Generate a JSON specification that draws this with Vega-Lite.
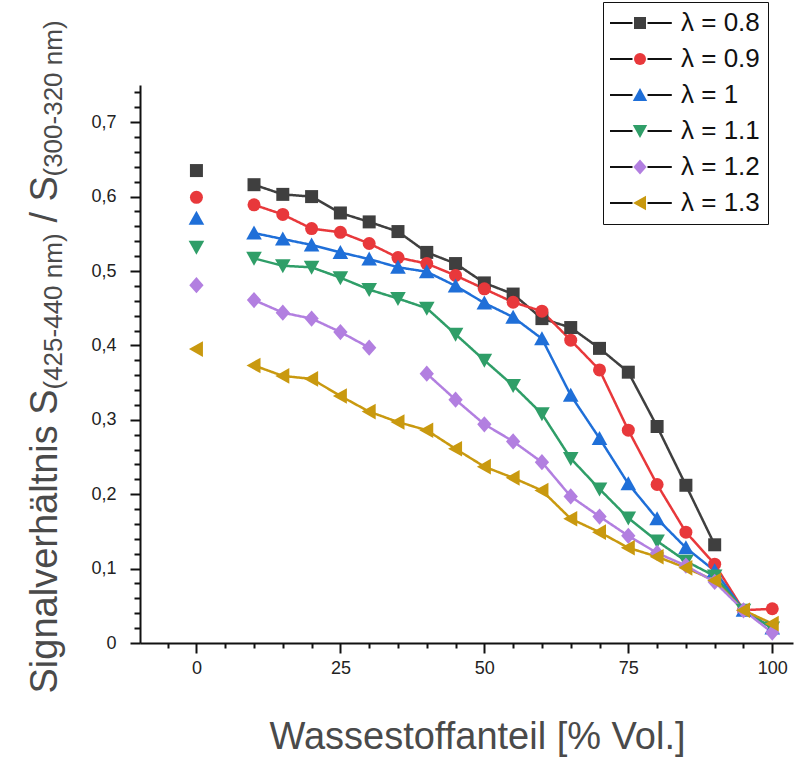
{
  "$schema": "https://vega.github.io/schema/vega-lite/v6.json",
  "width": 653,
  "height": 558,
  "autosize": {"type": "none"},
  "padding": {"left": 140, "top": 85, "right": 13, "bottom": 115},
  "background": "white",
  "config": {
    "view": {"stroke": null},
    "font": "Liberation Sans",
    "axis": {"grid": false, "domainColor": "#111", "domainWidth": 2, "tickColor": "#111", "tickWidth": 2, "labelFont": "Liberation Sans", "titleFont": "Liberation Sans", "labelColor": "#222", "titleColor": "#4a4a4a", "titleFontWeight": "normal"}
  },
  "data": {"values": [
    {"s": "λ = 0.8", "x": 0, "y": 0.635, "p": 0},
    {"s": "λ = 0.8", "x": 10, "y": 0.616, "p": 1},
    {"s": "λ = 0.8", "x": 15, "y": 0.603, "p": 1},
    {"s": "λ = 0.8", "x": 20, "y": 0.6, "p": 1},
    {"s": "λ = 0.8", "x": 25, "y": 0.578, "p": 1},
    {"s": "λ = 0.8", "x": 30, "y": 0.566, "p": 1},
    {"s": "λ = 0.8", "x": 35, "y": 0.553, "p": 1},
    {"s": "λ = 0.8", "x": 40, "y": 0.525, "p": 1},
    {"s": "λ = 0.8", "x": 45, "y": 0.51, "p": 1},
    {"s": "λ = 0.8", "x": 50, "y": 0.484, "p": 1},
    {"s": "λ = 0.8", "x": 55, "y": 0.469, "p": 1},
    {"s": "λ = 0.8", "x": 60, "y": 0.436, "p": 1},
    {"s": "λ = 0.8", "x": 65, "y": 0.424, "p": 1},
    {"s": "λ = 0.8", "x": 70, "y": 0.396, "p": 1},
    {"s": "λ = 0.8", "x": 75, "y": 0.364, "p": 1},
    {"s": "λ = 0.8", "x": 80, "y": 0.291, "p": 1},
    {"s": "λ = 0.8", "x": 85, "y": 0.212, "p": 1},
    {"s": "λ = 0.8", "x": 90, "y": 0.132, "p": 1},
    {"s": "λ = 0.9", "x": 0, "y": 0.599, "p": 0},
    {"s": "λ = 0.9", "x": 10, "y": 0.589, "p": 1},
    {"s": "λ = 0.9", "x": 15, "y": 0.576, "p": 1},
    {"s": "λ = 0.9", "x": 20, "y": 0.557, "p": 1},
    {"s": "λ = 0.9", "x": 25, "y": 0.552, "p": 1},
    {"s": "λ = 0.9", "x": 30, "y": 0.537, "p": 1},
    {"s": "λ = 0.9", "x": 35, "y": 0.518, "p": 1},
    {"s": "λ = 0.9", "x": 40, "y": 0.51, "p": 1},
    {"s": "λ = 0.9", "x": 45, "y": 0.494, "p": 1},
    {"s": "λ = 0.9", "x": 50, "y": 0.476, "p": 1},
    {"s": "λ = 0.9", "x": 55, "y": 0.458, "p": 1},
    {"s": "λ = 0.9", "x": 60, "y": 0.446, "p": 1},
    {"s": "λ = 0.9", "x": 65, "y": 0.407, "p": 1},
    {"s": "λ = 0.9", "x": 70, "y": 0.367, "p": 1},
    {"s": "λ = 0.9", "x": 75, "y": 0.286, "p": 1},
    {"s": "λ = 0.9", "x": 80, "y": 0.213, "p": 1},
    {"s": "λ = 0.9", "x": 85, "y": 0.149, "p": 1},
    {"s": "λ = 0.9", "x": 90, "y": 0.106, "p": 1},
    {"s": "λ = 0.9", "x": 95, "y": 0.044, "p": 1},
    {"s": "λ = 0.9", "x": 100, "y": 0.046, "p": 1},
    {"s": "λ = 1", "x": 0, "y": 0.571, "p": 0},
    {"s": "λ = 1", "x": 10, "y": 0.551, "p": 1},
    {"s": "λ = 1", "x": 15, "y": 0.543, "p": 1},
    {"s": "λ = 1", "x": 20, "y": 0.535, "p": 1},
    {"s": "λ = 1", "x": 25, "y": 0.525, "p": 1},
    {"s": "λ = 1", "x": 30, "y": 0.516, "p": 1},
    {"s": "λ = 1", "x": 35, "y": 0.505, "p": 1},
    {"s": "λ = 1", "x": 40, "y": 0.499, "p": 1},
    {"s": "λ = 1", "x": 45, "y": 0.48, "p": 1},
    {"s": "λ = 1", "x": 50, "y": 0.457, "p": 1},
    {"s": "λ = 1", "x": 55, "y": 0.438, "p": 1},
    {"s": "λ = 1", "x": 60, "y": 0.409, "p": 1},
    {"s": "λ = 1", "x": 65, "y": 0.333, "p": 1},
    {"s": "λ = 1", "x": 70, "y": 0.275, "p": 1},
    {"s": "λ = 1", "x": 75, "y": 0.214, "p": 1},
    {"s": "λ = 1", "x": 80, "y": 0.167, "p": 1},
    {"s": "λ = 1", "x": 85, "y": 0.128, "p": 1},
    {"s": "λ = 1", "x": 90, "y": 0.097, "p": 1},
    {"s": "λ = 1", "x": 95, "y": 0.044, "p": 1},
    {"s": "λ = 1", "x": 100, "y": 0.02, "p": 1},
    {"s": "λ = 1.1", "x": 0, "y": 0.532, "p": 0},
    {"s": "λ = 1.1", "x": 10, "y": 0.517, "p": 1},
    {"s": "λ = 1.1", "x": 15, "y": 0.507, "p": 1},
    {"s": "λ = 1.1", "x": 20, "y": 0.505, "p": 1},
    {"s": "λ = 1.1", "x": 25, "y": 0.491, "p": 1},
    {"s": "λ = 1.1", "x": 30, "y": 0.475, "p": 1},
    {"s": "λ = 1.1", "x": 35, "y": 0.463, "p": 1},
    {"s": "λ = 1.1", "x": 40, "y": 0.45, "p": 1},
    {"s": "λ = 1.1", "x": 45, "y": 0.415, "p": 1},
    {"s": "λ = 1.1", "x": 50, "y": 0.38, "p": 1},
    {"s": "λ = 1.1", "x": 55, "y": 0.346, "p": 1},
    {"s": "λ = 1.1", "x": 60, "y": 0.308, "p": 1},
    {"s": "λ = 1.1", "x": 65, "y": 0.248, "p": 1},
    {"s": "λ = 1.1", "x": 70, "y": 0.207, "p": 1},
    {"s": "λ = 1.1", "x": 75, "y": 0.168, "p": 1},
    {"s": "λ = 1.1", "x": 80, "y": 0.137, "p": 1},
    {"s": "λ = 1.1", "x": 85, "y": 0.11, "p": 1},
    {"s": "λ = 1.1", "x": 90, "y": 0.09, "p": 1},
    {"s": "λ = 1.1", "x": 95, "y": 0.044, "p": 1},
    {"s": "λ = 1.1", "x": 100, "y": 0.02, "p": 1},
    {"s": "λ = 1.2", "x": 0, "y": 0.481, "p": 0},
    {"s": "λ = 1.2", "x": 10, "y": 0.461, "p": 1},
    {"s": "λ = 1.2", "x": 15, "y": 0.444, "p": 1},
    {"s": "λ = 1.2", "x": 20, "y": 0.436, "p": 1},
    {"s": "λ = 1.2", "x": 25, "y": 0.418, "p": 1},
    {"s": "λ = 1.2", "x": 30, "y": 0.397, "p": 1},
    {"s": "λ = 1.2", "x": 40, "y": 0.362, "p": 2},
    {"s": "λ = 1.2", "x": 45, "y": 0.327, "p": 2},
    {"s": "λ = 1.2", "x": 50, "y": 0.294, "p": 2},
    {"s": "λ = 1.2", "x": 55, "y": 0.271, "p": 2},
    {"s": "λ = 1.2", "x": 60, "y": 0.243, "p": 2},
    {"s": "λ = 1.2", "x": 65, "y": 0.197, "p": 2},
    {"s": "λ = 1.2", "x": 70, "y": 0.17, "p": 2},
    {"s": "λ = 1.2", "x": 75, "y": 0.144, "p": 2},
    {"s": "λ = 1.2", "x": 80, "y": 0.121, "p": 2},
    {"s": "λ = 1.2", "x": 85, "y": 0.104, "p": 2},
    {"s": "λ = 1.2", "x": 90, "y": 0.082, "p": 2},
    {"s": "λ = 1.2", "x": 95, "y": 0.044, "p": 2},
    {"s": "λ = 1.2", "x": 100, "y": 0.014, "p": 2},
    {"s": "λ = 1.3", "x": 0, "y": 0.395, "p": 0},
    {"s": "λ = 1.3", "x": 10, "y": 0.373, "p": 1},
    {"s": "λ = 1.3", "x": 15, "y": 0.359, "p": 1},
    {"s": "λ = 1.3", "x": 20, "y": 0.355, "p": 1},
    {"s": "λ = 1.3", "x": 25, "y": 0.332, "p": 1},
    {"s": "λ = 1.3", "x": 30, "y": 0.311, "p": 1},
    {"s": "λ = 1.3", "x": 35, "y": 0.297, "p": 1},
    {"s": "λ = 1.3", "x": 40, "y": 0.286, "p": 1},
    {"s": "λ = 1.3", "x": 45, "y": 0.261, "p": 1},
    {"s": "λ = 1.3", "x": 50, "y": 0.237, "p": 1},
    {"s": "λ = 1.3", "x": 55, "y": 0.222, "p": 1},
    {"s": "λ = 1.3", "x": 60, "y": 0.205, "p": 1},
    {"s": "λ = 1.3", "x": 65, "y": 0.167, "p": 1},
    {"s": "λ = 1.3", "x": 70, "y": 0.149, "p": 1},
    {"s": "λ = 1.3", "x": 75, "y": 0.128, "p": 1},
    {"s": "λ = 1.3", "x": 80, "y": 0.116, "p": 1},
    {"s": "λ = 1.3", "x": 85, "y": 0.101, "p": 1},
    {"s": "λ = 1.3", "x": 90, "y": 0.084, "p": 1},
    {"s": "λ = 1.3", "x": 95, "y": 0.044, "p": 1},
    {"s": "λ = 1.3", "x": 100, "y": 0.026, "p": 1}
  ]},
  "layer": [
    {
      "transform": [{"filter": "datum.p == 1"}],
      "mark": {"type": "line", "strokeWidth": 2.5, "stroke": "#111"},
      "encoding": {
        "x": {"field": "x", "type": "quantitative", "scale": {"domain": [-9.8, 103.6], "nice": false, "zero": false},
          "axis": {"orient": "bottom", "values": [0, 25, 50, 75, 100], "tickSize": 10, "labelFontSize": 18, "labelPadding": 6, "title": "Wassestoffanteil [% Vol.]", "titleFontSize": 38, "titleX": 337, "titleY": 105, "titleAlign": "center", "titleBaseline": "alphabetic"}},
        "y": {"field": "y", "type": "quantitative", "scale": {"domain": [0, 0.75], "nice": false},
          "axis": {"orient": "left", "values": [0, 0.1, 0.2, 0.3, 0.4, 0.5, 0.6, 0.7], "tickSize": 10, "labelFontSize": 18, "labelPadding": 14,
            "labelExpr": "datum.value == 0 ? '0' : replace(format(datum.value, '.1f'), '.', ',')",
            "title": "Signalverhältnis S", "titleFontSize": 38, "titleAngle": 270, "titleAlign": "left", "titleBaseline": "alphabetic", "titleX": -84, "titleY": 608}},
        "stroke": {"field": "s", "type": "nominal", "legend": null,
          "scale": {"domain": ["λ = 0.8", "λ = 0.9", "λ = 1", "λ = 1.1", "λ = 1.2", "λ = 1.3"], "range": ["#3f3f3f", "#e8383b", "#1f6fd8", "#2f9e68", "#b27fe0", "#c9990f"]}},
        "strokeDash": {"field": "s", "type": "nominal",
          "scale": {"range": [[1, 0], [1, 0], [1, 0], [1, 0], [1, 0], [1, 0]]},
          "legend": {"orient": "none", "legendX": 463, "legendY": -83, "title": null, "symbolType": "M-5,0H-1.25M1.25,0H5.3", "symbolSize": 144, "symbolStrokeWidth": 2, "symbolStrokeColor": "#111", "symbolOffset": 16, "labelOffset": 28, "labelFontSize": 26, "labelFont": "Liberation Sans", "labelOpacity": 0, "rowPadding": 10, "padding": 8}}
      }
    },
    {
      "transform": [{"filter": "datum.p == 2"}],
      "mark": {"type": "line", "strokeWidth": 2.5, "stroke": "#111"},
      "encoding": {
        "x": {"field": "x", "type": "quantitative", "axis": null},
        "y": {"field": "y", "type": "quantitative",
          "axis": {"orient": "left", "domain": false, "ticks": false, "labels": false, "title": "(425-440 nm)", "titleFontSize": 26, "titleAngle": 270, "titleAlign": "left", "titleBaseline": "alphabetic", "titleX": -79, "titleY": 304}},
        "stroke": {"field": "s", "type": "nominal", "legend": null},
        "strokeDash": {"field": "s", "type": "nominal", "legend": null}
      }
    },
    {
      "transform": [{"filter": "datum.x > 0"}],
      "mark": {"type": "point", "filled": true, "size": 169, "opacity": 1},
      "encoding": {
        "x": {"field": "x", "type": "quantitative",
          "axis": {"orient": "bottom", "values": [-5, 5, 10, 15, 20, 30, 35, 40, 45, 55, 60, 65, 70, 80, 85, 90, 95], "tickSize": 5, "labels": false, "domain": false, "title": null}},
        "y": {"field": "y", "type": "quantitative",
          "axis": {"orient": "left", "values": [0.02, 0.04, 0.06, 0.08, 0.12, 0.14, 0.16, 0.18, 0.22, 0.24, 0.26, 0.28, 0.32, 0.34, 0.36, 0.38, 0.42, 0.44, 0.46, 0.48, 0.52, 0.54, 0.56, 0.58, 0.62, 0.64, 0.66, 0.68, 0.72, 0.74], "tickSize": 6, "labels": false, "domain": false,
            "title": "/ S", "titleFontSize": 38, "titleAngle": 270, "titleAlign": "left", "titleBaseline": "alphabetic", "titleX": -84, "titleY": 137}},
        "color": {"field": "s", "type": "nominal",
          "scale": {"domain": ["λ = 0.8", "λ = 0.9", "λ = 1", "λ = 1.1", "λ = 1.2", "λ = 1.3"], "range": ["#3f3f3f", "#e8383b", "#1f6fd8", "#2f9e68", "#b27fe0", "#c9990f"]},
          "legend": {"orient": "none", "legendX": 463, "legendY": -83, "title": null, "symbolSize": 144, "symbolStrokeWidth": 2, "symbolOffset": 16, "labelOffset": 28, "labelFontSize": 26, "labelFont": "Liberation Sans", "labelColor": "#111", "rowPadding": 10, "padding": 8, "strokeColor": "#111"}},
        "shape": {"field": "s", "type": "nominal",
          "scale": {"domain": ["λ = 0.8", "λ = 0.9", "λ = 1", "λ = 1.1", "λ = 1.2", "λ = 1.3"], "range": ["M-1,-1H1V1H-1Z", "circle", "M0,-1.15L1.2,1L-1.2,1Z", "M0,1.15L1.2,-1L-1.2,-1Z", "M0,-1.25L1.1,0L0,1.25L-1.1,0Z", "M-1.15,0L1,-1.2L1,1.2Z"]},
          "legend": {"orient": "none", "legendX": 463, "legendY": -83, "title": null, "symbolSize": 144, "symbolStrokeWidth": 2, "symbolOffset": 16, "labelOffset": 28, "labelFontSize": 26, "labelFont": "Liberation Sans", "labelColor": "#111", "rowPadding": 10, "padding": 8, "strokeColor": "#111"}}
      }
    },
    {
      "transform": [{"filter": "datum.x == 0"}],
      "mark": {"type": "point", "filled": true, "size": 169, "opacity": 1},
      "encoding": {
        "x": {"field": "x", "type": "quantitative", "axis": null},
        "y": {"field": "y", "type": "quantitative",
          "axis": {"orient": "left", "domain": false, "ticks": false, "labels": false, "title": "(300-320 nm)", "titleFontSize": 26, "titleAngle": 270, "titleAlign": "left", "titleBaseline": "alphabetic", "titleX": -79, "titleY": 91}},
        "color": {"field": "s", "type": "nominal", "legend": null},
        "shape": {"field": "s", "type": "nominal", "legend": null}
      }
    }
  ],
  "resolve": {"axis": {"x": "independent", "y": "independent"}, "legend": {"color": "independent", "shape": "independent", "strokeDash": "independent", "stroke": "independent"}}
}
